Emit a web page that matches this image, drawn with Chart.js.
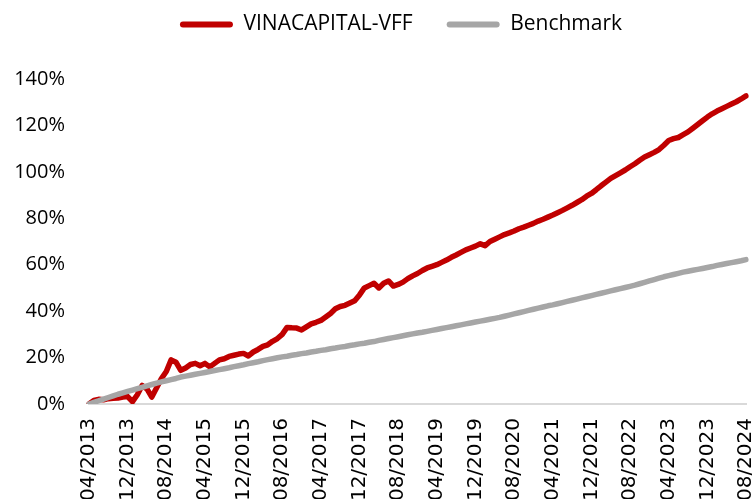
<!DOCTYPE html>
<html>
<head>
<meta charset="utf-8">
<script src="https://cdn.jsdelivr.net/npm/chart.js@4.4.1/dist/chart.umd.min.js"></script>
<style>
  html, body { margin: 0; padding: 0; background: #fff; overflow: hidden; }
  #wrap { width: 752px; height: 499px; }
</style>
</head>
<body>
<div id="wrap"><canvas id="perfChart" width="752" height="499"></canvas></div>
<script>
// monthly points, 04/2013 .. 08/2024
const months = [];
for (let i = 0; i < 137; i++) {
  const m = (3 + i) % 12 + 1;
  const y = 2013 + Math.floor((3 + i) / 12);
  months.push(String(m).padStart(2, '0') + '/' + y);
}

const tickLabels = ['04/2013', '12/2013', '08/2014', '04/2015', '12/2015', '08/2016',
  '04/2017', '12/2017', '08/2018', '04/2019', '12/2019', '08/2020', '04/2021',
  '12/2021', '08/2022', '04/2023', '12/2023', '08/2024'];

// cumulative return, %
const vffReturns = [
  0, 1.5, 2, 1.8, 2.3, 2.5, 2.6, 3, 3.2, 1,
  4, 8, 6.5, 3, 7, 11, 14, 19, 18, 14.5,
  15.5, 17, 17.5, 16.5, 17.5, 16, 17.5, 19, 19.5, 20.5,
  21, 21.5, 21.8, 20.7, 22.4, 23.5, 24.8, 25.5, 27, 28.2,
  30, 33, 32.8, 32.7, 31.9, 33.2, 34.5, 35.2, 36, 37.5,
  39, 41, 42, 42.5, 43.5, 44.5, 47, 50, 51, 52,
  50, 52, 53, 50.8, 51.5, 52.5, 54, 55.2, 56.2, 57.5,
  58.6, 59.3, 60, 61, 62, 63.2, 64.2, 65.3, 66.4, 67.2,
  68, 69, 68.2, 70, 71, 72, 73, 73.7, 74.5, 75.5,
  76.2, 77, 77.8, 78.8, 79.6, 80.5, 81.4, 82.4, 83.4, 84.5,
  85.6, 86.8, 88, 89.5, 90.7, 92.3, 94, 95.6, 97.2, 98.4,
  99.6, 100.8, 102.2, 103.5, 105, 106.4, 107.4, 108.4, 109.6, 111.5,
  113.5, 114.3, 114.8, 116, 117.2, 118.8, 120.4, 122, 123.6, 125,
  126.2, 127.2, 128.2, 129.2, 130.2, 131.4, 132.7
];

const benchmarkReturns = [
  0, 0.7, 1.4, 2.1, 2.8, 3.5, 4.2, 4.8, 5.4, 6.0,
  6.6, 7.2, 7.8, 8.4, 9.0, 9.5, 10.0, 10.5, 11.0, 11.6,
  12.0, 12.4, 12.8, 13.2, 13.6, 14.0, 14.4, 14.8, 15.2, 15.6,
  16.1, 16.5, 16.9, 17.4, 17.8, 18.2, 18.7, 19.1, 19.5, 19.9,
  20.3, 20.6, 21.0, 21.3, 21.7, 22.0, 22.4, 22.7, 23.1, 23.4,
  23.8, 24.1, 24.5, 24.8, 25.2, 25.5, 25.9, 26.2, 26.6, 26.9,
  27.4, 27.8, 28.2, 28.6, 29.0, 29.4, 29.8, 30.2, 30.6, 30.9,
  31.3, 31.7, 32.1, 32.5, 32.9, 33.3, 33.7, 34.1, 34.5, 34.9,
  35.3, 35.7, 36.1, 36.5, 36.9, 37.3, 37.8, 38.3, 38.8, 39.3,
  39.8, 40.3, 40.8, 41.3, 41.8, 42.3, 42.7, 43.2, 43.7, 44.2,
  44.7, 45.2, 45.7, 46.2, 46.7, 47.2, 47.7, 48.2, 48.7, 49.2,
  49.7, 50.2, 50.7, 51.2, 51.8, 52.4, 53.0, 53.6, 54.2, 54.8,
  55.3, 55.8, 56.3, 56.8, 57.2, 57.6, 58.0, 58.4, 58.8, 59.2,
  59.7, 60.1, 60.5, 60.9, 61.3, 61.7, 62.2
];

const RED = '#C00000';
const GREY = '#A6A6A6';

// move the legend up and a bit to the right, like in the source chart
const legendShift = {
  id: 'legendShift',
  afterLayout(chart) {
    const lg = chart.legend;
    if (lg) {
      lg.left += 25;
      lg.right += 25;
      lg.top -= 39;
      lg.bottom -= 39;
    }
  }
};

const ctx = document.getElementById('perfChart').getContext('2d');
new Chart(ctx, {
  type: 'line',
  data: {
    labels: months,
    datasets: [
      {
        label: 'VINACAPITAL-VFF',
        data: vffReturns,
        borderColor: RED,
        backgroundColor: RED,
        borderWidth: 5.5,
        pointRadius: 0,
        tension: 0,
        borderJoinStyle: 'round',
        borderCapStyle: 'round',
        order: 2
      },
      {
        label: 'Benchmark',
        data: benchmarkReturns,
        borderColor: GREY,
        backgroundColor: GREY,
        borderWidth: 5.5,
        pointRadius: 0,
        tension: 0,
        borderJoinStyle: 'round',
        borderCapStyle: 'round',
        order: 1
      }
    ]
  },
  options: {
    responsive: false,
    animation: false,
    layout: { padding: 0 },
    plugins: {
      tooltip: { enabled: false },
      legend: {
        position: 'top',
        maxHeight: 60,
        labels: {
          boxWidth: 53,
          boxHeight: 6,
          useBorderRadius: true,
          borderRadius: 3,
          padding: 34,
          color: '#000',
          font: { family: 'Open Sans', size: 21 },
          sort: (a, b) => a.datasetIndex - b.datasetIndex,
          generateLabels: (chart) => {
            const items = Chart.defaults.plugins.legend.labels.generateLabels(chart);
            items.forEach(it => { it.lineWidth = 0; });
            return items;
          }
        }
      }
    },
    scales: {
      x: {
        type: 'category',
        offset: false,
        grid: { display: false, drawTicks: false },
        border: { display: true, color: '#D9D9D9', width: 2 },
        ticks: {
          autoSkip: false,
          minRotation: 90,
          maxRotation: 90,
          padding: 14,
          color: '#000',
          font: { family: 'DejaVu Sans', size: 20 },
          callback: (value, index) => tickLabels.includes(months[index]) ? months[index] : null
        },
        afterFit: (scale) => {
          scale.paddingLeft = 0;
          scale.paddingRight = 6;
          scale.height = 95;
        }
      },
      y: {
        min: 0,
        max: 140,
        grid: { display: false, drawTicks: false },
        border: { display: false },
        ticks: {
          stepSize: 20,
          padding: 24,
          color: '#000',
          font: { family: 'Open Sans', size: 20 },
          callback: (v) => v + '%'
        },
        afterFit: (scale) => {
          scale.width = 89;
          scale.paddingTop = 79;
        }
      }
    }
  },
  plugins: [legendShift]
});
</script>
</body>
</html>
